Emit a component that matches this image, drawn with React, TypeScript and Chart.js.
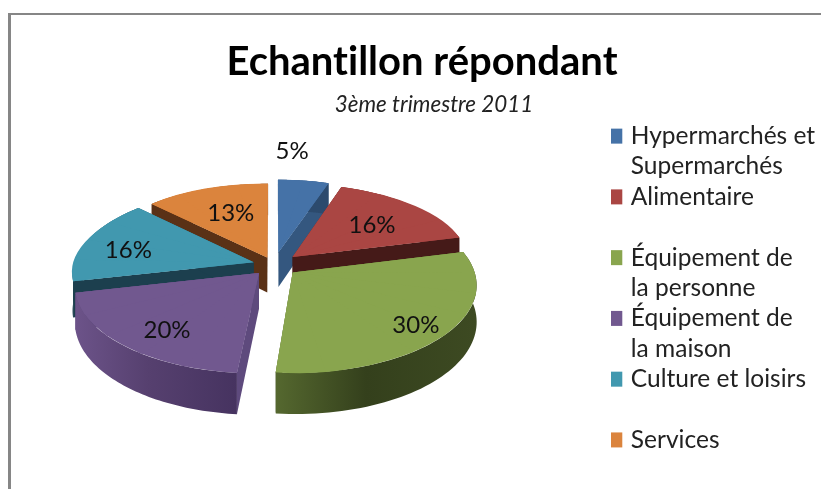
import React, { useEffect, useRef } from "react";
import { Chart, registerables } from "chart.js";

Chart.register(...registerables);

const categories = [
  ["Hypermarchés et", "Supermarchés"],
  ["Alimentaire", ""],
  ["Équipement de", "la personne"],
  ["Équipement de", "la maison"],
  ["Culture et loisirs", ""],
  ["Services", ""],
];
const shares = [5.2, 15.9, 30.4, 20.0, 15.9, 12.6];
const titleText = "Echantillon répondant";
const subtitleText = "3ème trimestre 2011";

const topColors = ["#4572a7", "#aa4643", "#89a54e", "#71588f", "#4198af", "#db843d"];
const cutColors = ["#34577f", "#451a18", "#3a4520", "#5e4a7d", "#1c3f4e", "#5a3116"];
const wallLeft = ["#34577f", "#6e2d2b", "#55682f", "#6c5389", "#1c3f4e", "#5a3116"];
const wallMid = ["#2c4a6d", "#451a18", "#34401c", "#56406f", "#1c3f4e", "#5a3116"];
const wallRight = ["#2c4a6d", "#451a18", "#3d4a22", "#463360", "#1c3f4e", "#5a3116"];
const explode = [0.155, 0.142, 0.135, 0.125, 0.118, 0.098];
const labelFrac = [1.53, 0.65, 0.82, 0.74, 0.74, 0.65];
const labelShift = [-5.7, 0, 0, -3, -2, 2.5];
const paintOrder = [0, 5, 1, 4, 2, 3];

const view = { cx: 274, cy: 265, rx: 180, ky: 85, persp: 0.13, depth: 35.5 };

function project(u: number, v: number) {
  const w = 1 / (1 - view.persp * v);
  return { x: view.cx + view.rx * u * w, y: view.cy + view.ky * v * w, d: view.depth * w };
}

// Draws the library's own arc element as a projected wedge between two angles.
function drawWedge(ctx: any, el: any, ou: number, ov: number, a0: number, a1: number) {
  const { x, y, outerRadius: R } = el;
  const A = project(ou, ov);
  const P0 = project(ou + Math.cos(a0), ov + Math.sin(a0));
  const P1 = project(ou + Math.cos(a1), ov + Math.sin(a1));
  const x0 = R * Math.cos(a0), y0 = R * Math.sin(a0);
  const x1 = R * Math.cos(a1), y1 = R * Math.sin(a1);
  const det = x0 * y1 - x1 * y0;
  const dx0 = P0.x - A.x, dy0 = P0.y - A.y, dx1 = P1.x - A.x, dy1 = P1.y - A.y;
  const a = (dx0 * y1 - dx1 * y0) / det;
  const c = (dx1 * x0 - dx0 * x1) / det;
  const b = (dy0 * y1 - dy1 * y0) / det;
  const d = (dy1 * x0 - dy0 * x1) / det;
  const keep = { s: el.startAngle, e: el.endAngle, c: el.circumference };
  el.startAngle = a0;
  el.endAngle = a1;
  el.circumference = a1 - a0;
  ctx.save();
  ctx.transform(a, b, c, d, A.x - a * x - c * y, A.y - b * x - d * y);
  el.draw(ctx);
  ctx.restore();
  el.startAngle = keep.s;
  el.endAngle = keep.e;
  el.circumference = keep.c;
}

const pie3d = {
  id: "pie3d",
  afterLayout(chart: any) {
    const sub = chart.boxes.find((b: any) => b.options && b.options.text === subtitleText);
    if (sub) {
      sub.left += 12;
      sub.right += 12;
    }
    const legend = chart.legend;
    legend.left += 10;
    legend.right += 10;
    legend.top += 4;
    legend.bottom += 4;
  },
  beforeDraw(chart: any) {
    chart.ctx.letterSpacing = "0.01px";
  },
  beforeDatasetDraw(chart: any, args: any) {
    const ctx = chart.ctx;
    const arcs = args.meta.data;
    for (const i of paintOrder) {
      const el = arcs[i];
      const a0 = el.startAngle, a1 = el.endAngle;
      const m = (a0 + a1) / 2;
      const ou = explode[i] * Math.cos(m);
      const ov = explode[i] * Math.sin(m);
      const A = project(ou, ov);
      const P0 = project(ou + Math.cos(a0), ov + Math.sin(a0));
      const P1 = project(ou + Math.cos(a1), ov + Math.sin(a1));
      // cut walls
      ctx.fillStyle = cutColors[i];
      for (const P of [P0, P1]) {
        ctx.beginPath();
        ctx.moveTo(A.x, A.y);
        ctx.lineTo(P.x, P.y);
        ctx.lineTo(P.x, P.y + P.d);
        ctx.lineTo(A.x, A.y + A.d);
        ctx.closePath();
        ctx.fill();
      }
      // outer wall
      const rim: any[] = [];
      const steps = 60;
      for (let s = 0; s <= steps; s++) {
        const t = a0 + ((a1 - a0) * s) / steps;
        rim.push(project(ou + Math.cos(t), ov + Math.sin(t)));
      }
      const xs = rim.map((p) => p.x);
      const grad = ctx.createLinearGradient(Math.min(...xs), 0, Math.max(...xs), 0);
      grad.addColorStop(0, wallLeft[i]);
      grad.addColorStop(0.45, wallMid[i]);
      grad.addColorStop(1, wallRight[i]);
      ctx.fillStyle = grad;
      ctx.beginPath();
      rim.forEach((p, k) => (k ? ctx.lineTo(p.x, p.y) : ctx.moveTo(p.x, p.y)));
      for (let k = rim.length - 1; k >= 0; k--) ctx.lineTo(rim[k].x, rim[k].y + rim[k].d);
      ctx.closePath();
      ctx.fill();
      // top face: one whole wedge below, then small wedges so the perspective holds along the rim
      drawWedge(ctx, el, ou, ov, a0, a1);
      const n = Math.max(1, Math.ceil((a1 - a0) / (Math.PI / 12)));
      const overlap = 0.03;
      for (let k = 0; k < n; k++) {
        const s0 = a0 + ((a1 - a0) * k) / n;
        const s1 = Math.min(a1, a0 + ((a1 - a0) * (k + 1)) / n + overlap);
        drawWedge(ctx, el, ou, ov, s0, s1);
      }
    }
    return false;
  },
  afterDatasetsDraw(chart: any) {
    const ctx = chart.ctx;
    const arcs = chart.getDatasetMeta(0).data;
    ctx.save();
    ctx.font = "24px Lato";
    ctx.fillStyle = "#111";
    ctx.textAlign = "center";
    ctx.textBaseline = "middle";
    arcs.forEach((el: any, i: number) => {
      const m = (el.startAngle + el.endAngle) / 2;
      const t = m + (labelShift[i] * Math.PI) / 180;
      const p = project(
        explode[i] * Math.cos(m) + labelFrac[i] * Math.cos(t),
        explode[i] * Math.sin(m) + labelFrac[i] * Math.sin(t)
      );
      ctx.fillText(Math.round(shares[i]) + "%", p.x, p.y + 3);
    });
    ctx.restore();
  },
};

export default function App() {
  const ref = useRef<HTMLCanvasElement>(null);
  useEffect(() => {
    const chart = new Chart(ref.current!, {
      type: "pie",
      data: {
        labels: categories as any,
        datasets: [{ data: shares, backgroundColor: topColors, borderWidth: 0, clip: false } as any],
      },
      options: {
        animation: false,
        responsive: false,
        layout: { padding: { left: 29, top: 38, right: 6, bottom: 0 } },
        plugins: {
          tooltip: { enabled: false },
          title: {
            display: true,
            text: titleText,
            color: "#000",
            font: { family: "Lato", size: 40, weight: "bold", lineHeight: 1.2 },
            padding: { top: 0, bottom: 0 },
          },
          subtitle: {
            display: true,
            text: subtitleText,
            color: "#222",
            font: { family: "Lato", size: 22.4, style: "italic", lineHeight: 1.2 },
            padding: { top: 5, bottom: 2 },
          },
          legend: {
            position: "right",
            align: "start",
            fullSize: false,
            labels: {
              usePointStyle: true,
              pointStyle: "rect",
              boxWidth: 7.5,
              boxHeight: 15,
              padding: 0,
              color: "#222",
              font: { family: "Lato", size: 24.5, lineHeight: 1.24 },
            },
          },
        },
      },
      plugins: [pie3d],
    } as any);
    return () => chart.destroy();
  }, []);
  return (
    <>
      <div
        style={{
          position: "fixed",
          left: 8,
          top: 13,
          right: -10,
          bottom: -10,
          borderTop: "2.5px solid #868686",
          borderLeft: "3px solid #868686",
        }}
      />
      <canvas ref={ref} width={821} height={489} style={{ position: "fixed", left: 0, top: 0 }} />
    </>
  );
}
